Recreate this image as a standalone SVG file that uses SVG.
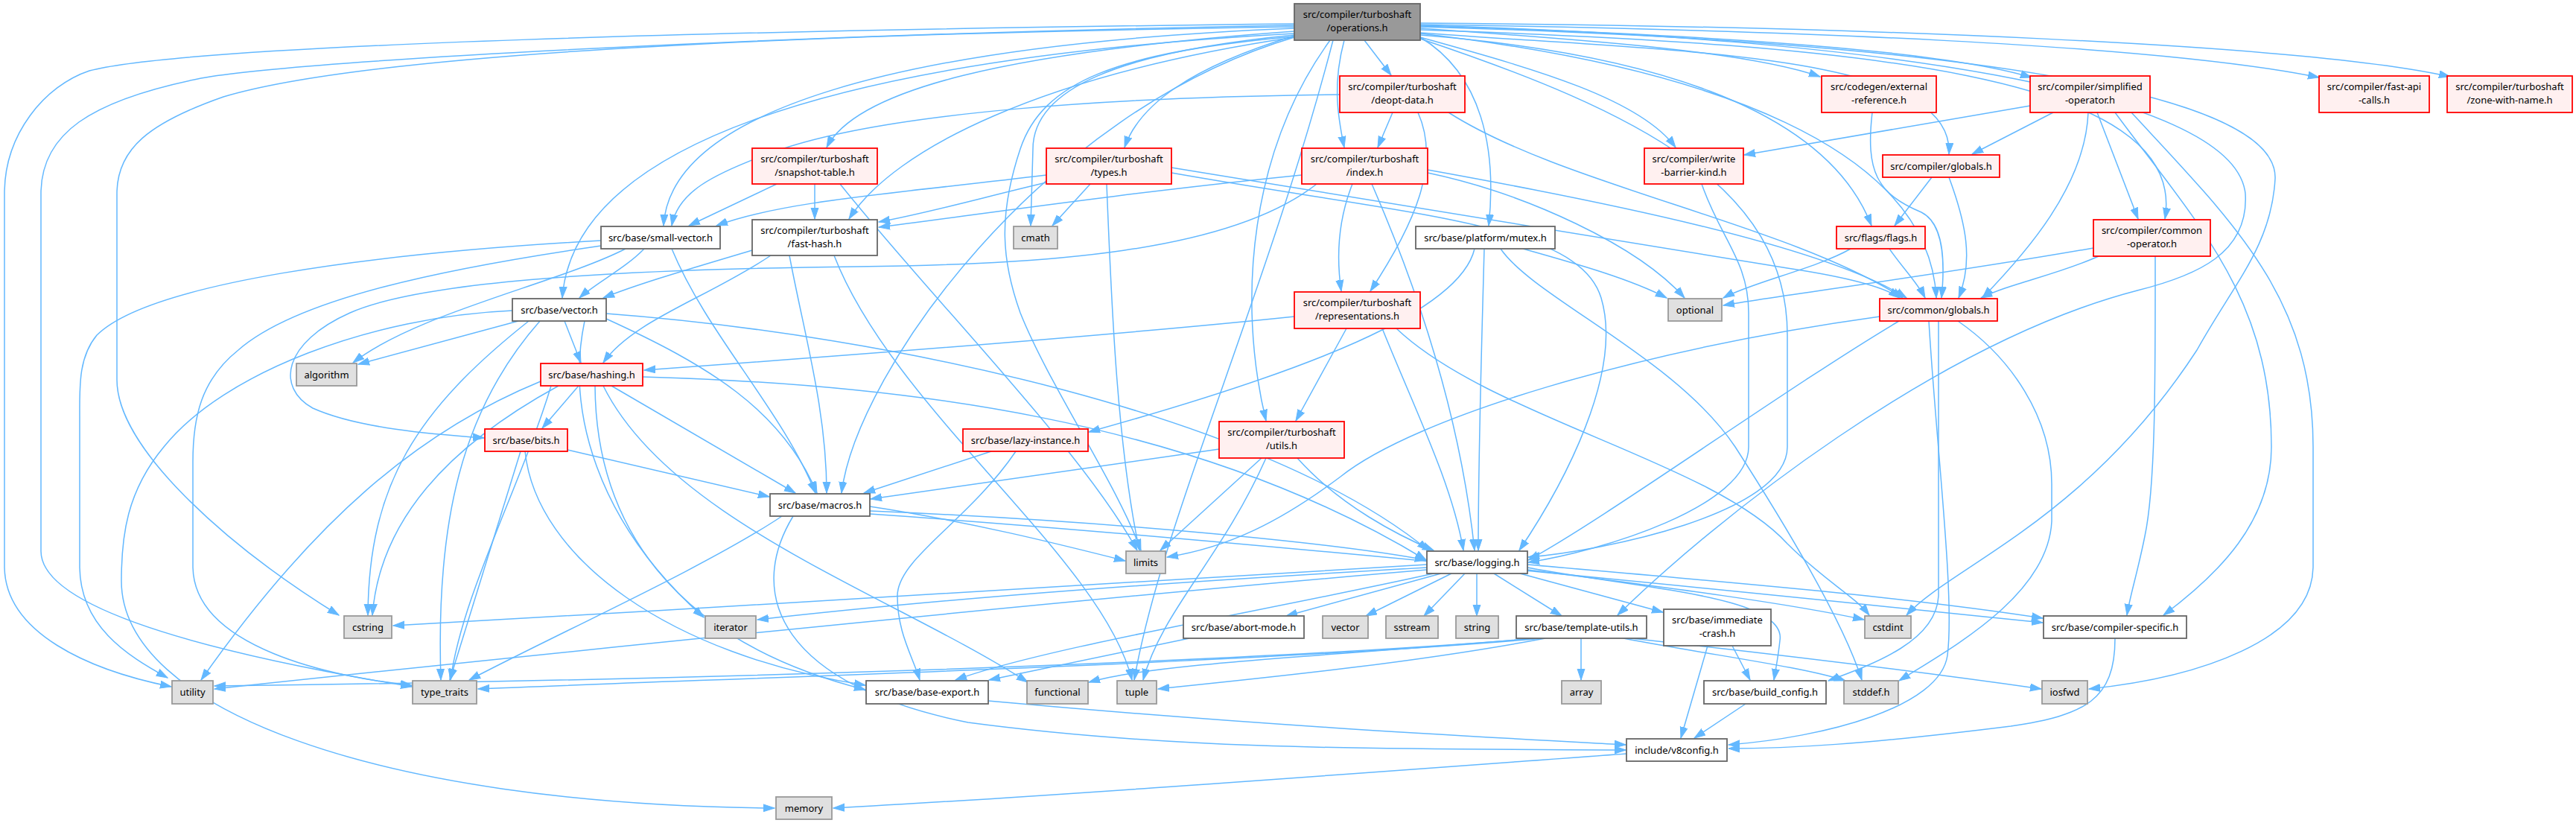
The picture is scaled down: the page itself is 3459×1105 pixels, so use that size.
<svg xmlns="http://www.w3.org/2000/svg" width="3459" height="1105" viewBox="0 0 3459 1105">
<style>
.bg{fill:#fff}
.e path{fill:none;stroke:#63b8ff;stroke-width:1.5;marker-end:url(#ah)}
.n rect{stroke-width:1.8}
.n text{font-family:"Noto Sans","DejaVu Sans",sans-serif;font-size:13px;fill:#000;text-anchor:middle}
.root rect{fill:#999;stroke:#666}
.red rect{fill:#fff0f0;stroke:#ff0000}
.wht rect{fill:#fff;stroke:#666}
.sys rect{fill:#e0e0e0;stroke:#999}
</style>
<defs>
<marker id="ah" markerUnits="userSpaceOnUse" markerWidth="16" markerHeight="12" refX="15" refY="5.5" orient="auto">
<path d="M0,0.5 L15,5.5 L0,10.5 Z" fill="#63b8ff" stroke="#63b8ff" stroke-width="1"/>
</marker>
</defs>
<rect class="bg" width="3459" height="1105"/>
<g id="edges" class="e">
<path d="M1832,54 L1868,101"/>
<path d="M1907,38 C2150,55 2350,70 2444,103"/>
<path d="M1907,35 C2250,45 2600,65 2728,104"/>
<path d="M1907,33 C2400,40 2900,60 3114,104"/>
<path d="M1907,31 C2500,35 3100,60 3290,103"/>
<path d="M1738,42 C1350,70 1150,120 1110,198"/>
<path d="M1738,48 C1600,90 1530,140 1510,198"/>
<path d="M1805,54 C1790,110 1795,150 1805,198"/>
<path d="M1907,50 C2050,90 2200,130 2250,198"/>
<path d="M1907,44 C2250,70 2625,70 2617,207"/>
<path d="M1738,38 C1200,60 900,150 891,303"/>
<path d="M1738,50 C1400,100 1200,200 1140,294"/>
<path d="M1738,47 C1500,70 1387,120 1387,200 L1384,303"/>
<path d="M1907,50 C1990,100 2010,200 1999,303"/>
<path d="M1907,47 C2200,70 2450,140 2513,303"/>
<path d="M1907,40 C2500,60 2940,100 2907,294"/>
<path d="M1738,45 C1100,80 770,200 755,400"/>
<path d="M1907,45 C2300,90 2590,200 2600,400"/>
<path d="M1786,54 C1680,200 1660,400 1700,565"/>
<path d="M1738,50 C1400,150 1150,500 1130,662"/>
<path d="M1738,49 C1500,70 1400,110 1370,200 C1340,290 1345,350 1370,420 C1410,520 1500,650 1532,739"/>
<path d="M1907,52 C2200,150 2400,250 2400,450 L2400,600 C2400,690 2150,740 2052,748"/>
<path d="M1738,36 C1100,45 500,70 300,130 C200,165 157,200 157,260 L157,510 C157,600 300,730 455,826"/>
<path d="M1738,32 C1000,40 250,60 120,95 C60,115 6,180 6,260 L6,760 C6,850 120,900 230,922"/>
<path d="M1738,34 C1100,45 400,80 270,105 C120,135 55,180 55,260 L55,740 C55,820 300,880 553,922"/>
<path d="M1907,34 C2500,50 3000,120 3015,260 C3020,340 2950,370 2870,390 C2600,460 2300,700 2172,826"/>
<path d="M1907,36 C2600,55 3060,120 3055,240 C3050,330 3000,380 2950,470 C2800,700 2620,760 2560,826"/>
<path d="M1790,54 C1700,400 1560,700 1523,913"/>
<path d="M1870,151 L1850,198"/>
<path d="M1799,127 C1500,130 1200,150 1050,200 C950,235 910,260 902,303"/>
<path d="M1904,151 C1935,220 1900,300 1840,391"/>
<path d="M1945,151 C2100,250 2400,300 2555,400"/>
<path d="M2514,151 C2505,230 2520,260 2580,285 C2610,300 2612,350 2607,400"/>
<path d="M2726,142 L2342,208"/>
<path d="M2757,151 L2648,207"/>
<path d="M2816,151 L2871,294"/>
<path d="M2804,151 C2800,250 2720,340 2662,400"/>
<path d="M2840,151 C2950,300 3050,400 3050,600 C3050,700 2980,770 2905,826"/>
<path d="M2862,151 C3000,300 3106,400 3106,600 L3106,760 C3106,860 2950,910 2805,925"/>
<path d="M1043,247 L925,303"/>
<path d="M1094,247 L1094,294"/>
<path d="M1128,247 C1250,400 1450,600 1527,739"/>
<path d="M1405,235 C1200,260 1050,270 962,303"/>
<path d="M1405,245 C1320,265 1250,285 1180,298"/>
<path d="M1464,247 L1413,303"/>
<path d="M1486,247 C1492,400 1500,600 1530,739"/>
<path d="M1573,225 C1900,280 2200,330 2400,360 C2480,372 2530,385 2551,400"/>
<path d="M1573,232 C1900,290 2120,300 2150,400 C2180,500 2100,650 2040,739"/>
<path d="M1748,235 C1500,260 1300,290 1180,305"/>
<path d="M1768,247 C1650,340 1400,355 1150,358 C800,362 560,380 470,420 C380,460 370,520 420,548 C480,575 580,583 650,588"/>
<path d="M1816,247 C1795,300 1795,350 1801,391"/>
<path d="M1842,247 C1900,380 1960,550 1980,739"/>
<path d="M1917,232 C2050,260 2200,330 2262,400"/>
<path d="M1917,228 C2150,270 2450,330 2560,400"/>
<path d="M2285,247 C2310,320 2348,350 2348,420 L2348,600 C2348,680 2150,740 2052,755"/>
<path d="M2594,238 L2544,303"/>
<path d="M2617,238 C2640,300 2650,350 2630,400"/>
<path d="M865,334 C840,360 800,380 778,400"/>
<path d="M840,334 C750,380 560,420 474,487"/>
<path d="M902,334 C950,450 1050,550 1095,662"/>
<path d="M807,323 C500,340 200,380 130,450 C105,480 107,520 107,560 L107,760 C107,840 170,880 225,910"/>
<path d="M807,330 C600,360 400,400 320,470 C270,510 259,560 259,620 L259,760 C259,870 450,910 553,920"/>
<path d="M1010,336 C930,360 860,380 810,400"/>
<path d="M1035,343 C950,400 850,430 810,487"/>
<path d="M1060,343 C1080,450 1110,550 1110,662"/>
<path d="M1120,343 C1200,550 1480,750 1520,913"/>
<path d="M2045,334 C2120,355 2190,375 2238,400"/>
<path d="M1993,334 C1990,450 1985,600 1985,739"/>
<path d="M1980,334 C1960,420 1750,500 1462,580"/>
<path d="M2015,334 C2060,400 2250,480 2330,600 C2420,740 2480,850 2500,913"/>
<path d="M2485,334 C2440,360 2350,380 2314,400"/>
<path d="M2537,334 C2555,360 2575,380 2585,400"/>
<path d="M2811,333 C2600,370 2400,395 2314,410"/>
<path d="M2818,344 C2760,370 2700,380 2660,400"/>
<path d="M2894,344 C2894,500 2895,650 2880,720 C2870,770 2860,800 2856,826"/>
<path d="M696,431 L481,489"/>
<path d="M758,431 L780,487"/>
<path d="M814,428 C950,490 1050,550 1097,662"/>
<path d="M814,421 C1200,450 1700,560 1918,739"/>
<path d="M710,431 C560,550 495,650 494,826"/>
<path d="M725,431 C620,550 585,700 592,913"/>
<path d="M785,431 C760,550 800,700 945,829"/>
<path d="M688,417 C500,425 300,500 220,600 C170,660 163,720 163,780 C163,950 500,1080 1040,1085"/>
<path d="M1738,425 C1500,450 1100,480 865,497"/>
<path d="M1808,441 L1740,565"/>
<path d="M1856,441 C1900,550 1950,650 1965,739"/>
<path d="M1875,441 C2000,560 2300,620 2400,730 C2450,780 2490,800 2510,826"/>
<path d="M2550,431 C2400,520 2150,700 2052,752"/>
<path d="M2524,425 C2200,470 1900,560 1800,640 C1720,700 1650,735 1567,748"/>
<path d="M2603,431 L2603,800 C2600,860 2520,890 2455,914"/>
<path d="M2629,431 C2700,480 2755,560 2755,650 L2755,700 C2750,800 2620,870 2550,914"/>
<path d="M2590,431 C2600,600 2625,800 2615,880 C2605,950 2450,990 2321,1000"/>
<path d="M777,518 L728,575"/>
<path d="M821,518 L1068,662"/>
<path d="M863,506 C1200,515 1600,560 1915,752"/>
<path d="M726,512 C560,580 420,700 270,913"/>
<path d="M740,518 C700,650 620,800 605,913"/>
<path d="M750,518 C600,600 510,700 500,826"/>
<path d="M799,518 C800,700 900,860 1162,926"/>
<path d="M810,518 C900,700 1200,800 1380,916"/>
<path d="M762,604 L1033,667"/>
<path d="M699,606 L604,913"/>
<path d="M705,606 C720,750 900,880 1162,920"/>
<path d="M1331,606 L1160,662"/>
<path d="M1364,606 C1300,700 1205,750 1205,800 C1205,850 1225,880 1235,913"/>
<path d="M1637,603 C1450,630 1300,650 1169,670"/>
<path d="M1694,615 L1558,739"/>
<path d="M1700,615 C1640,750 1560,820 1535,913"/>
<path d="M1742,615 C1800,680 1880,720 1925,739"/>
<path d="M1168,680 C1300,700 1420,730 1511,753"/>
<path d="M1168,686 C1500,700 1800,730 1915,752"/>
<path d="M1168,690 C1600,720 2200,780 2743,836"/>
<path d="M1050,693 C950,760 750,850 630,913"/>
<path d="M1065,693 C1000,800 1050,920 1300,970 C1600,1010 1900,1005 2183,1007"/>
<path d="M1935,770 L1727,827"/>
<path d="M1949,770 L1834,827"/>
<path d="M1967,770 L1912,827"/>
<path d="M1983,770 L1983,827"/>
<path d="M2006,770 L2097,827"/>
<path d="M2041,770 L2233,822"/>
<path d="M1916,758 C1500,780 1000,815 528,840"/>
<path d="M1916,762 C1600,780 1300,800 1017,832"/>
<path d="M1916,765 C1500,800 900,860 288,925"/>
<path d="M1925,770 C1700,820 1400,870 1283,913"/>
<path d="M2051,762 C2200,790 2400,800 2390,860 C2388,880 2385,895 2382,913"/>
<path d="M2051,758 C2300,780 2550,800 2743,830"/>
<path d="M2051,765 C2250,790 2400,810 2503,832"/>
<path d="M2123,857 L2123,913"/>
<path d="M2071,857 C1700,890 1000,910 642,925"/>
<path d="M2065,857 C1600,895 800,915 288,921"/>
<path d="M2060,857 C1800,880 1550,890 1462,916"/>
<path d="M2075,857 C1900,890 1700,910 1555,925"/>
<path d="M2180,857 C2300,880 2420,895 2478,914"/>
<path d="M2190,857 C2400,880 2600,905 2741,925"/>
<path d="M2326,867 L2350,913"/>
<path d="M2293,867 L2257,991"/>
<path d="M1597,857 L1328,913"/>
<path d="M2840,857 C2840,940 2800,960 2700,975 C2500,1000 2400,1005 2321,1005"/>
<path d="M2344,945 L2275,991"/>
<path d="M1327,941 C1700,975 2000,990 2183,1000"/>
<path d="M2184,1012 C1800,1040 1400,1070 1119,1085"/>
</g>
<g id="n-operations" class="n root"><rect x="1738" y="5" width="169" height="49"/><text x="1822.5" y="24">src/compiler/turboshaft</text><text x="1822.5" y="42">/operations.h</text></g>
<g id="n-deopt-data" class="n red"><rect x="1799" y="102" width="168" height="49"/><text x="1883" y="121">src/compiler/turboshaft</text><text x="1883" y="139">/deopt-data.h</text></g>
<g id="n-external-reference" class="n red"><rect x="2446" y="102" width="154" height="49"/><text x="2523" y="121">src/codegen/external</text><text x="2523" y="139">-reference.h</text></g>
<g id="n-simplified-operator" class="n red"><rect x="2726" y="102" width="161" height="49"/><text x="2806.5" y="121">src/compiler/simplified</text><text x="2806.5" y="139">-operator.h</text></g>
<g id="n-fast-api-calls" class="n red"><rect x="3114" y="102" width="148" height="49"/><text x="3188" y="121">src/compiler/fast-api</text><text x="3188" y="139">-calls.h</text></g>
<g id="n-zone-with-name" class="n red"><rect x="3286" y="102" width="168" height="49"/><text x="3370" y="121">src/compiler/turboshaft</text><text x="3370" y="139">/zone-with-name.h</text></g>
<g id="n-snapshot-table" class="n red"><rect x="1010" y="199" width="168" height="48"/><text x="1094" y="218">src/compiler/turboshaft</text><text x="1094" y="236">/snapshot-table.h</text></g>
<g id="n-types" class="n red"><rect x="1405" y="199" width="168" height="48"/><text x="1489" y="218">src/compiler/turboshaft</text><text x="1489" y="236">/types.h</text></g>
<g id="n-index" class="n red"><rect x="1748" y="199" width="169" height="48"/><text x="1832.5" y="218">src/compiler/turboshaft</text><text x="1832.5" y="236">/index.h</text></g>
<g id="n-write-barrier-kind" class="n red"><rect x="2208" y="199" width="133" height="48"/><text x="2274.5" y="218">src/compiler/write</text><text x="2274.5" y="236">-barrier-kind.h</text></g>
<g id="n-compiler-globals" class="n red"><rect x="2528" y="208" width="157" height="30"/><text x="2606.5" y="228">src/compiler/globals.h</text></g>
<g id="n-small-vector" class="n wht"><rect x="807" y="304" width="160" height="30"/><text x="887" y="324">src/base/small-vector.h</text></g>
<g id="n-fast-hash" class="n wht"><rect x="1010" y="295" width="168" height="48"/><text x="1094" y="314">src/compiler/turboshaft</text><text x="1094" y="332">/fast-hash.h</text></g>
<g id="n-cmath" class="n sys"><rect x="1361" y="304" width="59" height="30"/><text x="1390.5" y="324">cmath</text></g>
<g id="n-mutex" class="n wht"><rect x="1901" y="304" width="187" height="30"/><text x="1994.5" y="324">src/base/platform/mutex.h</text></g>
<g id="n-flags" class="n red"><rect x="2466" y="304" width="119" height="30"/><text x="2525.5" y="324">src/flags/flags.h</text></g>
<g id="n-common-operator" class="n red"><rect x="2811" y="295" width="157" height="49"/><text x="2889.5" y="314">src/compiler/common</text><text x="2889.5" y="332">-operator.h</text></g>
<g id="n-base-vector" class="n wht"><rect x="688" y="401" width="126" height="30"/><text x="751" y="421">src/base/vector.h</text></g>
<g id="n-representations" class="n red"><rect x="1738" y="392" width="169" height="49"/><text x="1822.5" y="411">src/compiler/turboshaft</text><text x="1822.5" y="429">/representations.h</text></g>
<g id="n-optional" class="n sys"><rect x="2240" y="401" width="72" height="30"/><text x="2276" y="421">optional</text></g>
<g id="n-common-globals" class="n red"><rect x="2524" y="401" width="158" height="30"/><text x="2603" y="421">src/common/globals.h</text></g>
<g id="n-algorithm" class="n sys"><rect x="398" y="488" width="81" height="30"/><text x="438.5" y="508">algorithm</text></g>
<g id="n-hashing" class="n red"><rect x="726" y="488" width="137" height="30"/><text x="794.5" y="508">src/base/hashing.h</text></g>
<g id="n-bits" class="n red"><rect x="651" y="576" width="111" height="30"/><text x="706.5" y="596">src/base/bits.h</text></g>
<g id="n-lazy-instance" class="n red"><rect x="1293" y="576" width="168" height="30"/><text x="1377" y="596">src/base/lazy-instance.h</text></g>
<g id="n-utils" class="n red"><rect x="1637" y="566" width="168" height="49"/><text x="1721" y="585">src/compiler/turboshaft</text><text x="1721" y="603">/utils.h</text></g>
<g id="n-macros" class="n wht"><rect x="1034" y="663" width="134" height="30"/><text x="1101" y="683">src/base/macros.h</text></g>
<g id="n-limits" class="n sys"><rect x="1512" y="740" width="53" height="30"/><text x="1538.5" y="760">limits</text></g>
<g id="n-logging" class="n wht"><rect x="1916" y="740" width="135" height="30"/><text x="1983.5" y="760">src/base/logging.h</text></g>
<g id="n-cstring" class="n sys"><rect x="462" y="827" width="64" height="30"/><text x="494" y="847">cstring</text></g>
<g id="n-iterator" class="n sys"><rect x="947" y="827" width="68" height="30"/><text x="981" y="847">iterator</text></g>
<g id="n-abort-mode" class="n wht"><rect x="1589" y="827" width="162" height="30"/><text x="1670" y="847">src/base/abort-mode.h</text></g>
<g id="n-vector" class="n sys"><rect x="1776" y="827" width="61" height="30"/><text x="1806.5" y="847">vector</text></g>
<g id="n-sstream" class="n sys"><rect x="1861" y="827" width="70" height="30"/><text x="1896" y="847">sstream</text></g>
<g id="n-string" class="n sys"><rect x="1955" y="827" width="57" height="30"/><text x="1983.5" y="847">string</text></g>
<g id="n-template-utils" class="n wht"><rect x="2036" y="827" width="175" height="30"/><text x="2123.5" y="847">src/base/template-utils.h</text></g>
<g id="n-immediate-crash" class="n wht"><rect x="2234" y="818" width="144" height="49"/><text x="2306" y="837">src/base/immediate</text><text x="2306" y="855">-crash.h</text></g>
<g id="n-cstdint" class="n sys"><rect x="2504" y="827" width="62" height="30"/><text x="2535" y="847">cstdint</text></g>
<g id="n-compiler-specific" class="n wht"><rect x="2744" y="827" width="192" height="30"/><text x="2840" y="847">src/base/compiler-specific.h</text></g>
<g id="n-utility" class="n sys"><rect x="231" y="914" width="55" height="31"/><text x="258.5" y="934">utility</text></g>
<g id="n-type_traits" class="n sys"><rect x="554" y="914" width="86" height="31"/><text x="597" y="934">type_traits</text></g>
<g id="n-base-export" class="n wht"><rect x="1163" y="914" width="164" height="31"/><text x="1245" y="934">src/base/base-export.h</text></g>
<g id="n-functional" class="n sys"><rect x="1379" y="914" width="82" height="31"/><text x="1420" y="934">functional</text></g>
<g id="n-tuple" class="n sys"><rect x="1500" y="914" width="53" height="31"/><text x="1526.5" y="934">tuple</text></g>
<g id="n-array" class="n sys"><rect x="2097" y="914" width="53" height="31"/><text x="2123.5" y="934">array</text></g>
<g id="n-build_config" class="n wht"><rect x="2288" y="914" width="164" height="31"/><text x="2370" y="934">src/base/build_config.h</text></g>
<g id="n-stddef" class="n sys"><rect x="2476" y="914" width="73" height="31"/><text x="2512.5" y="934">stddef.h</text></g>
<g id="n-iosfwd" class="n sys"><rect x="2742" y="914" width="61" height="31"/><text x="2772.5" y="934">iosfwd</text></g>
<g id="n-v8config" class="n wht"><rect x="2184" y="992" width="135" height="30"/><text x="2251.5" y="1012">include/v8config.h</text></g>
<g id="n-memory" class="n sys"><rect x="1042" y="1070" width="75" height="30"/><text x="1079.5" y="1090">memory</text></g>
</svg>
